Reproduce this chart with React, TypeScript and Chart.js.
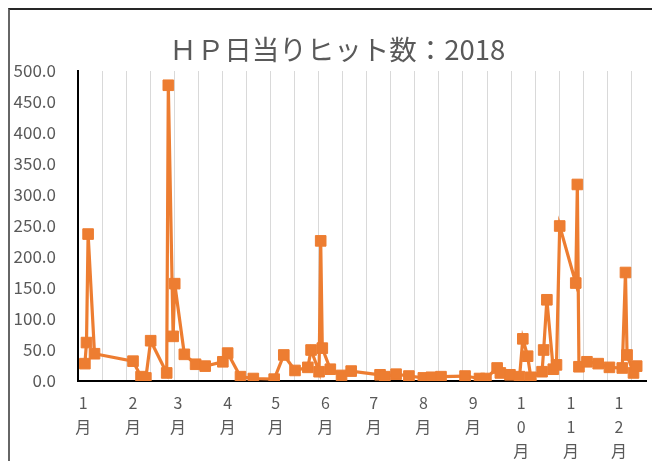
import React, { useEffect, useRef } from "react";
import { Chart, registerables } from "chart.js";

Chart.register(...registerables);

const TITLE = "ＨＰ日当りヒット数：2018";

const dates = [
  "2018-01-02", "2018-01-03", "2018-01-04", "2018-01-08", "2018-02-01",
  "2018-02-06", "2018-02-09", "2018-02-12", "2018-02-22", "2018-02-23",
  "2018-02-26", "2018-02-27", "2018-03-05", "2018-03-12", "2018-03-18",
  "2018-03-29", "2018-04-01", "2018-04-09", "2018-04-17", "2018-04-30",
  "2018-05-06", "2018-05-13", "2018-05-21", "2018-05-23", "2018-05-28",
  "2018-05-29", "2018-05-30", "2018-06-04", "2018-06-11", "2018-06-17",
  "2018-07-05", "2018-07-08", "2018-07-15", "2018-07-23", "2018-08-01",
  "2018-08-06", "2018-08-12", "2018-08-27", "2018-09-05", "2018-09-09",
  "2018-09-16", "2018-09-18", "2018-09-24", "2018-09-30", "2018-10-02",
  "2018-10-05", "2018-10-07", "2018-10-14", "2018-10-15", "2018-10-17",
  "2018-10-21", "2018-10-23", "2018-10-25", "2018-11-04", "2018-11-05",
  "2018-11-06", "2018-11-11", "2018-11-18", "2018-11-25", "2018-12-03",
  "2018-12-05", "2018-12-06", "2018-12-10", "2018-12-12",
];

const hits = [
  28, 62, 237, 44, 32,
  7, 5, 65, 13, 477,
  72, 157, 43, 27, 24,
  31, 45, 7, 4, 3,
  42, 17, 22, 50, 15,
  226, 53, 19, 9, 16,
  10, 7, 11, 8, 5,
  6, 7, 8, 4, 4,
  21, 13, 10, 7, 68,
  40, 6, 15, 50, 131,
  19, 26, 250, 158, 317,
  23, 31, 28, 22, 21,
  175, 42, 13, 24,
];

const monthStarts = [
  "2018-01-01", "2018-02-01", "2018-03-01", "2018-04-01", "2018-05-01", "2018-06-01",
  "2018-07-01", "2018-08-01", "2018-09-01", "2018-10-01", "2018-11-01", "2018-12-01",
];

const monthLabels = [
  ["1", "月"], ["2", "月"], ["3", "月"], ["4", "月"], ["5", "月"], ["6", "月"],
  ["7", "月"], ["8", "月"], ["9", "月"], ["1", "0", "月"], ["1", "1", "月"], ["1", "2", "月"],
];

// axis range (days from 2018-01-01) and grid spacing in days
const X_MIN = -3.3;
const X_MAX = 350.8;
const GRID_STEP_DAYS = 15;
const Y_MIN = 0;
const Y_MAX = 500;
const Y_STEP = 50;

const ORANGE = "#ED7D31";
const TEXT = "#595959";
const FONT = '"Noto Sans CJK JP", "Noto Sans", sans-serif';

const toDay = (s: string) =>
  (Date.parse(s + "T00:00:00Z") - Date.parse("2018-01-01T00:00:00Z")) / 86400000;

export default function App() {
  const ref = useRef<HTMLCanvasElement>(null);

  useEffect(() => {
    document.documentElement.style.overflow = "hidden";
    const points = dates.map((d, i) => ({ x: toDay(d), y: hits[i] }));
    const gridValues: number[] = [];
    for (let v = X_MIN; v <= X_MAX; v += GRID_STEP_DAYS) gridValues.push(v);

    const chart = new Chart(ref.current as HTMLCanvasElement, {
      type: "line",
      data: {
        datasets: [
          {
            data: points,
            borderColor: ORANGE,
            backgroundColor: ORANGE,
            borderWidth: 3.2,
            pointStyle: "rect",
            pointRadius: 7.5,
            pointBorderWidth: 1,
            pointBorderColor: ORANGE,
            pointBackgroundColor: ORANGE,
            tension: 0,
          },
        ],
      },
      options: {
        animation: false,
        responsive: false,
        events: [],
        layout: { padding: { left: 0, right: 14, top: 0, bottom: 0 } },
        plugins: {
          legend: { display: false },
          tooltip: { enabled: false },
          title: {
            display: true,
            text: "   " + TITLE,
            color: TEXT,
            font: { family: FONT, size: 27.5, weight: "normal", lineHeight: 1.2 },
            padding: { top: 23, bottom: 5 },
          },
        },
        scales: {
          xg: {
            type: "linear",
            position: "bottom",
            min: X_MIN,
            max: X_MAX,
            afterBuildTicks: (s: any) => {
              s.ticks = gridValues.map((v) => ({ value: v }));
            },
            ticks: { display: false },
            grid: { color: "#d9d9d9", lineWidth: 1, drawTicks: false },
            border: { display: false },
          },
          x: {
            type: "linear",
            position: "bottom",
            min: X_MIN,
            max: X_MAX,
            afterBuildTicks: (s: any) => {
              s.ticks = monthStarts.map((d) => ({ value: toDay(d) }));
            },
            afterFit: (s: any) => {
              s.height = 80;
            },
            ticks: {
              autoSkip: false,
              maxRotation: 0,
              color: TEXT,
              padding: 10,
              font: { family: FONT, size: 16, lineHeight: 1.5 },
              callback: (_v: any, i: number) => monthLabels[i],
            },
            grid: { display: false, drawTicks: false },
            border: { color: "#000", width: 2 },
          },
          y: {
            min: Y_MIN,
            max: Y_MAX,
            afterFit: (s: any) => {
              s.width = 68;
            },
            ticks: {
              stepSize: Y_STEP,
              color: TEXT,
              padding: 22,
              font: { family: FONT, size: 17 },
              callback: (v: any) => Number(v).toFixed(1),
            },
            grid: { display: false, drawTicks: false },
            border: { color: "#000", width: 2 },
          },
        },
      },
    } as any);
    return () => chart.destroy();
  }, []);

  return (
    <div
      style={{
        width: 700,
        height: 480,
        borderTop: "2px solid #262626",
        borderLeft: "2px solid #666",
        overflow: "hidden",
      }}
    >
      <canvas ref={ref} width={650} height={451} style={{ display: "block" }} />
    </div>
  );
}
